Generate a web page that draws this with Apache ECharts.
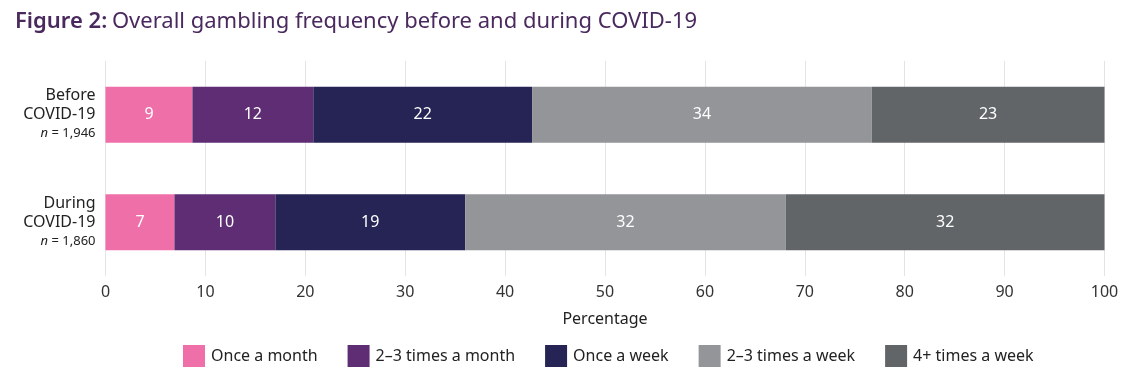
<!DOCTYPE html>
<html>
<head>
<meta charset="utf-8">
<script src="https://cdn.jsdelivr.net/npm/echarts@6/dist/echarts.min.js"></script>
<style>
html,body{margin:0;padding:0;background:#fff;}
#c{width:1137px;height:385px;}
</style>
</head>
<body>
<div id="c"></div>
<script>
const categories = ['Before', 'During'];
const sampleSizes = ['1,946', '1,860'];
const seriesNames = ['Once a month', '2–3 times a month', 'Once a week', '2–3 times a week', '4+ times a week'];
const onceMonth = [8.7, 6.9];
const twoThreeMonth = [12.1, 10.1];
const onceWeek = [21.9, 19.0];
const twoThreeWeek = [34.0, 32.1];
const fourPlusWeek = [23.3, 31.9];
const labelValues = [[9, 7], [12, 10], [22, 19], [34, 32], [23, 32]];
const xTicks = [0, 10, 20, 30, 40, 50, 60, 70, 80, 90, 100];

const colors = ['#ef6fa9', '#5e2d74', '#262454', '#939598', '#626567'];
const seriesData = [onceMonth, twoThreeMonth, onceWeek, twoThreeWeek, fourPlusWeek];
const FONT = '"Noto Sans", "Open Sans", sans-serif';

const chart = echarts.init(document.getElementById('c'), null, {renderer: 'canvas'});
chart.setOption({
  animation: false,
  textStyle: {fontFamily: FONT},
  title: {
    text: '{b|Figure 2:} {n|Overall gambling frequency before and during COVID-19}',
    left: 10, top: 6,
    textStyle: {
      rich: {
        b: {fontFamily: FONT, fontSize: 22, fontWeight: 600, color: '#4a2a5e'},
        n: {fontFamily: FONT, fontSize: 22, fontWeight: 'normal', color: '#4a2a5e'}
      }
    }
  },
  grid: {left: 105.5, right: 32.5, top: 61, bottom: 109, containLabel: false},
  xAxis: {
    type: 'value', min: 0, max: 100, interval: 10,
    axisLine: {show: false}, axisTick: {show: false},
    splitLine: {show: true, lineStyle: {color: '#e4e4e4', width: 1}},
    axisLabel: {
      margin: 8, fontSize: 16, color: '#333', fontFamily: FONT,
      formatter: v => xTicks.includes(v) ? String(v) : ''
    },
    name: 'Percentage', nameLocation: 'middle', nameGap: 35,
    nameTextStyle: {fontSize: 16, color: '#222', fontFamily: FONT}
  },
  yAxis: {
    type: 'category', data: categories, inverse: true,
    axisLine: {show: false}, axisTick: {show: false}, splitLine: {show: false},
    axisLabel: {
      margin: 10, align: 'right',
      formatter: (v, i) => '{a|' + v + '}\n{a|COVID-19}\n{i|n}{s| = ' + sampleSizes[i] + '}',
      rich: {
        a: {fontSize: 16, color: '#222', fontFamily: FONT, lineHeight: 19, align: 'right'},
        i: {fontSize: 13, color: '#222', fontFamily: FONT, fontStyle: 'italic', lineHeight: 19},
        s: {fontSize: 13, color: '#222', fontFamily: FONT, lineHeight: 19}
      }
    }
  },
  legend: {
    top: 340, left: 178, padding: 5,
    itemWidth: 22, itemHeight: 22, itemGap: 30,
    icon: 'rect',
    textStyle: {fontSize: 16, color: '#222', fontFamily: FONT, padding: [0, 0, 0, 1]},
    data: seriesNames
  },
  series: seriesNames.map((name, k) => ({
    name: name, type: 'bar', stack: 'total', barWidth: 56,
    itemStyle: {color: colors[k]},
    label: {
      show: true, position: 'inside', color: '#fff', fontSize: 16, fontFamily: FONT,
      formatter: p => String(labelValues[k][p.dataIndex])
    },
    data: seriesData[k]
  }))
});
</script>
</body>
</html>
